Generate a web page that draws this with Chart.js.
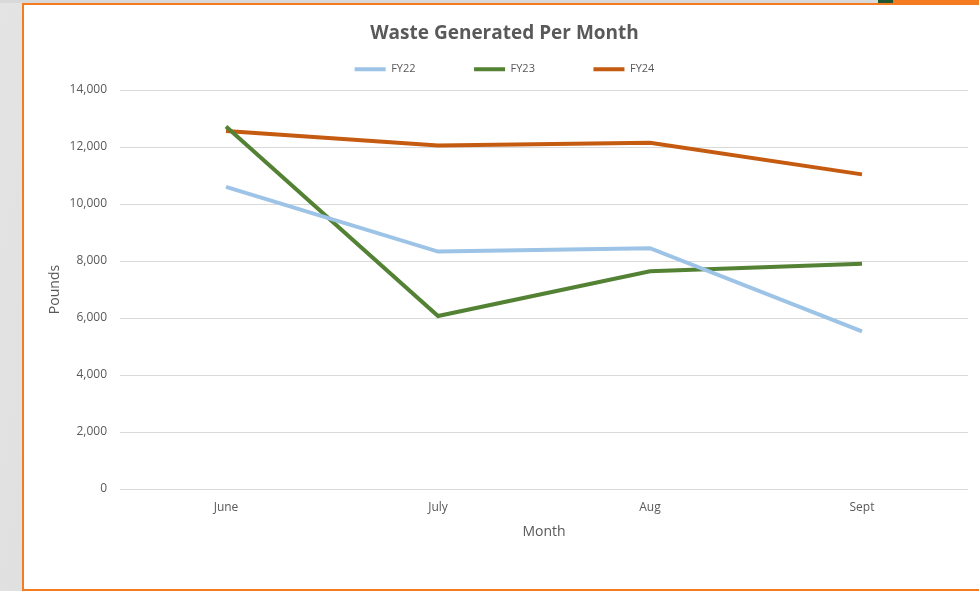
<!DOCTYPE html>
<html>
<head>
<meta charset="utf-8">
<script src="https://cdn.jsdelivr.net/npm/chart.js@4"></script>
<style>
  html, body { margin: 0; padding: 0; }
  body {
    width: 979px; height: 591px; overflow: hidden; position: relative;
    background: linear-gradient(100deg, #e4e4e4 0%, #d6d6d6 40%, #ececec 100%);
  }
  #topbar { position: absolute; left: 0; top: 0; width: 979px; height: 3px; background: #d9d9d9; }
  #orange { position: absolute; left: 893px; top: 0; width: 86px; height: 4px; background: #f47b20; }
  #green { position: absolute; left: 878px; top: 0; width: 16px; height: 3px; background: #1e5631; }
  #frame {
    position: absolute; left: 22px; top: 3px; width: 970px; height: 584px;
    border: 2px solid #f47b20; background: #fff;
  }
  #wrap { position: absolute; left: 25px; top: 5px; width: 954px; height: 583px; }
  #wrap canvas { display: block; }
</style>
</head>
<body>
<div id="topbar"></div>
<div id="frame"></div>
<div id="green"></div>
<div id="orange"></div>
<div id="wrap"><canvas id="c"></canvas></div>
<script>
// 数据
const months = ['June', 'July', 'Aug', 'Sept'];
const fy22 = [10600, 8330, 8450, 5530];
const fy23 = [12720, 6070, 7640, 7900];
const fy24 = [12560, 12050, 12150, 11040];
const yTicks = [0, 2000, 4000, 6000, 8000, 10000, 12000, 14000];

const grey = '#595959';
const font = "'Open Sans', sans-serif";

function line(label, data, color) {
    return {
        label: label,
        data: data,
        borderColor: color,
        backgroundColor: color,
        borderWidth: 4,
        pointRadius: 0,
        tension: 0
    };
}

new Chart(document.getElementById('c'), {
    type: 'line',
    data: {
        labels: months,
        datasets: [
            line('FY22', fy22, '#9dc3e6'),
            line('FY23', fy23, '#548235'),
            line('FY24', fy24, '#c55a11')
        ]
    },
    options: {
        responsive: true,
        maintainAspectRatio: false,
        animation: false,
        layout: { padding: { top: 5.5, right: 11, bottom: 0, left: 16 } },
        plugins: {
            title: {
                display: true,
                text: 'Waste Generated Per Month',
                color: grey,
                font: { family: font, size: 19, weight: 'bold' },
                padding: { top: 11.2, bottom: -39.3 }
            },
            legend: {
                position: 'top',
                labels: {
                    color: grey,
                    font: { family: font, size: 11 },
                    usePointStyle: true,
                    pointStyle: 'line',
                    pointStyleWidth: 31,
                    padding: 58.5
                }
            },
            tooltip: { enabled: false }
        },
        scales: {
            x: {
                offset: true,
                grid: { display: false, drawTicks: false },
                border: { display: false },
                ticks: { color: grey, font: { family: font, size: 12 }, padding: 17 },
                title: {
                    display: true, text: 'Month', color: grey,
                    font: { family: font, size: 14 },
                    padding: { top: -8.8, bottom: 42.6 }
                }
            },
            y: {
                min: 0,
                max: 14000,
                afterBuildTicks: s => { s.ticks = yTicks.map(v => ({ value: v })); },
                grid: { color: '#d9d9d9', drawTicks: false },
                border: { display: false },
                ticks: {
                    color: grey, font: { family: font, size: 12 }, padding: 13,
                    callback: v => v.toLocaleString('en-US')
                },
                title: {
                    display: true, text: 'Pounds', color: grey,
                    font: { family: font, size: 14 },
                    padding: { top: 5.6, bottom: 0 }
                },
                afterFit: s => { s.width = 79; }
            }
        }
    }
});
</script>
</body>
</html>
